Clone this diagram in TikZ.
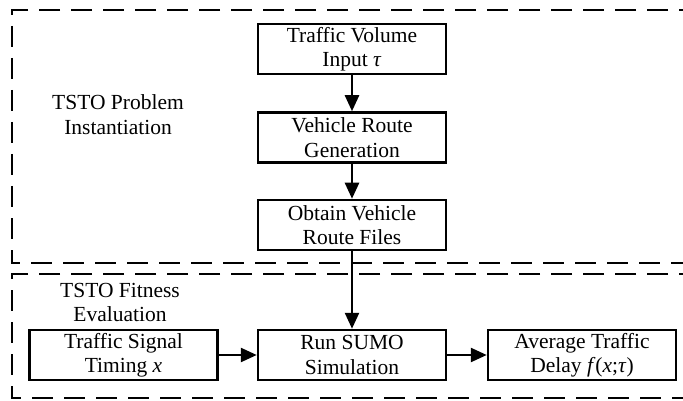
\documentclass[tikz,border=0pt]{standalone}
\usepackage{fontspec}
\setmainfont{Liberation Serif}
\usetikzlibrary{arrows.meta}
\tikzset{
  procbox/.style={draw, line width=2.5pt, minimum width=188pt, minimum height=50pt, inner sep=0pt, align=center, font=\fontsize{21.5}{24.5}\selectfont},
  grouplabel/.style={align=center, inner sep=0pt, font=\fontsize{21.5}{24.5}\selectfont},
  groupframe/.style={draw, line width=2.5pt, dash pattern=on 21pt off 11pt},
  flow/.style={line width=2.5pt, -{Triangle[width=14pt,length=16pt]}}
}
\begin{document}
\begin{tikzpicture}[x=1pt,y=-1pt]
\clip (0,0) rectangle (683,401);
\fill[white] (0,0) rectangle (683,401);
\draw[groupframe] (700,10) -- (12,10) -- (12,263) -- (700,263);
\draw[groupframe] (700,274) -- (12,274) -- (12,398) -- (700,398);
\node[grouplabel] (lab1) at (118,114.5) {TSTO Problem\\Instantiation};
\node[grouplabel] (lab2) at (120,302.5) {TSTO Fitness\\Evaluation};
\node[procbox] (b1) at (352,49) {Traffic Volume\\Input \textit{τ}};
\node[procbox] (b2) at (352,137.5) {Vehicle Route\\Generation};
\node[procbox] (b3) at (352,225) {Obtain Vehicle\\Route Files};
\node[procbox] (left) at (123.5,355) {Traffic Signal\\Timing \textit{x}};
\node[procbox] (mid) at (352,355) {Run SUMO\\Simulation};
\node[procbox] (right) at (582,355) {Average Traffic\\Delay \textit{f}(\textit{x};\textit{τ})};
\draw[flow] (b1) -- (b2);
\draw[flow] (b2) -- (b3);
\draw[flow] (b3) -- (mid);
\draw[flow] (left) -- (mid);
\draw[flow] (mid) -- (right);
\end{tikzpicture}
\end{document}
